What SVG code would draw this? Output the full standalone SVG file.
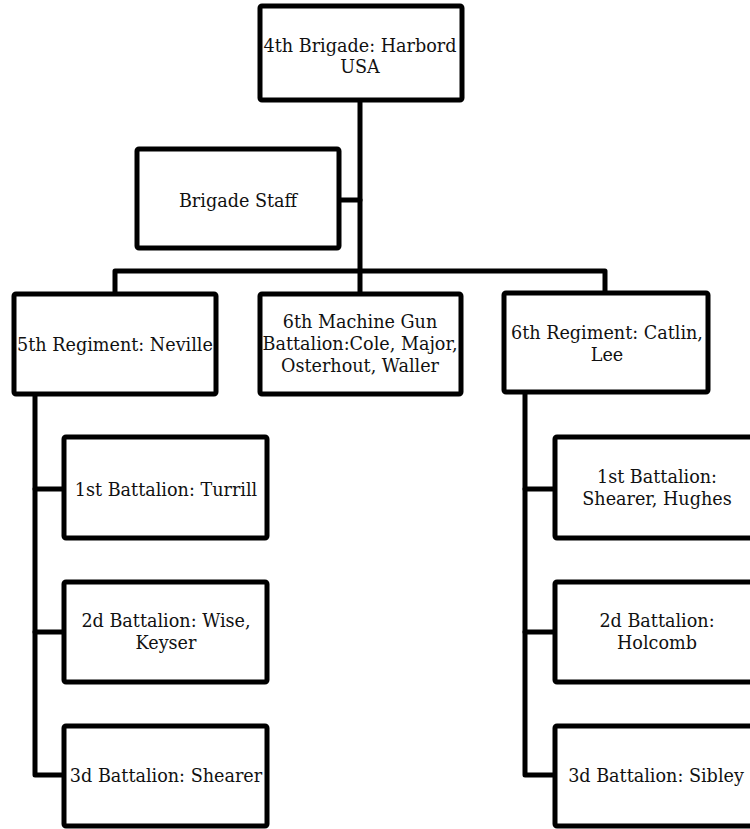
<svg xmlns="http://www.w3.org/2000/svg" width="750" height="829" viewBox="0 0 750 829">
<style>
.box{fill:#fff;stroke:#000;stroke-width:5;stroke-linejoin:round}
.ln{fill:none;stroke:#000;stroke-width:5;stroke-linejoin:round;stroke-linecap:round}
text{font-family:"DejaVu Serif","Liberation Serif",serif;font-size:17.6px;fill:#111;text-anchor:middle}
</style>
<rect width="750" height="829" fill="#fff"/>
<g id="connectors">
<path class="ln" d="M360,100 V294"/>
<path class="ln" d="M339,200 H360"/>
<path class="ln" d="M115,294 V271 H605 V293"/>
<path class="ln" d="M35,394 V775 H64"/>
<path class="ln" d="M35,489 H64"/>
<path class="ln" d="M35,632 H64"/>
<path class="ln" d="M525,392 V775 H555"/>
<path class="ln" d="M525,489 H555"/>
<path class="ln" d="M525,632 H555"/>
</g>
<g id="brigade">
<rect class="box" x="260" y="6" width="202" height="94" rx="2"/>
<text x="360" y="52">4th Brigade: Harbord</text>
<text x="360" y="73">USA</text>
</g>
<g id="staff">
<rect class="box" x="137" y="149" width="202" height="99" rx="2"/>
<text x="238" y="207">Brigade Staff</text>
</g>
<g id="reg5">
<rect class="box" x="14" y="294" width="202" height="100" rx="2"/>
<text x="115" y="351">5th Regiment: Neville</text>
</g>
<g id="mg6">
<rect class="box" x="260" y="294" width="201" height="100" rx="2"/>
<text x="360" y="328">6th Machine Gun</text>
<text x="360" y="350">Battalion:Cole, Major,</text>
<text x="360" y="372">Osterhout, Waller</text>
</g>
<g id="reg6">
<rect class="box" x="504" y="293" width="204" height="99" rx="2"/>
<text x="607" y="339">6th Regiment: Catlin,</text>
<text x="607" y="361">Lee</text>
</g>
<g id="b1l">
<rect class="box" x="64" y="437" width="203" height="101" rx="2"/>
<text x="166" y="496">1st Battalion: Turrill</text>
</g>
<g id="b2l">
<rect class="box" x="64" y="582" width="203" height="100" rx="2"/>
<text x="166" y="627">2d Battalion: Wise,</text>
<text x="166" y="649">Keyser</text>
</g>
<g id="b3l">
<rect class="box" x="64" y="726" width="203" height="100" rx="2"/>
<text x="166" y="782">3d Battalion: Shearer</text>
</g>
<g id="b1r">
<rect class="box" x="555" y="437" width="204" height="101" rx="2"/>
<text x="657" y="483">1st Battalion:</text>
<text x="657" y="505">Shearer, Hughes</text>
</g>
<g id="b2r">
<rect class="box" x="555" y="582" width="204" height="100" rx="2"/>
<text x="657" y="627">2d Battalion:</text>
<text x="657" y="649">Holcomb</text>
</g>
<g id="b3r">
<rect class="box" x="555" y="726" width="204" height="100" rx="2"/>
<text x="656" y="782">3d Battalion: Sibley</text>
</g>
</svg>
